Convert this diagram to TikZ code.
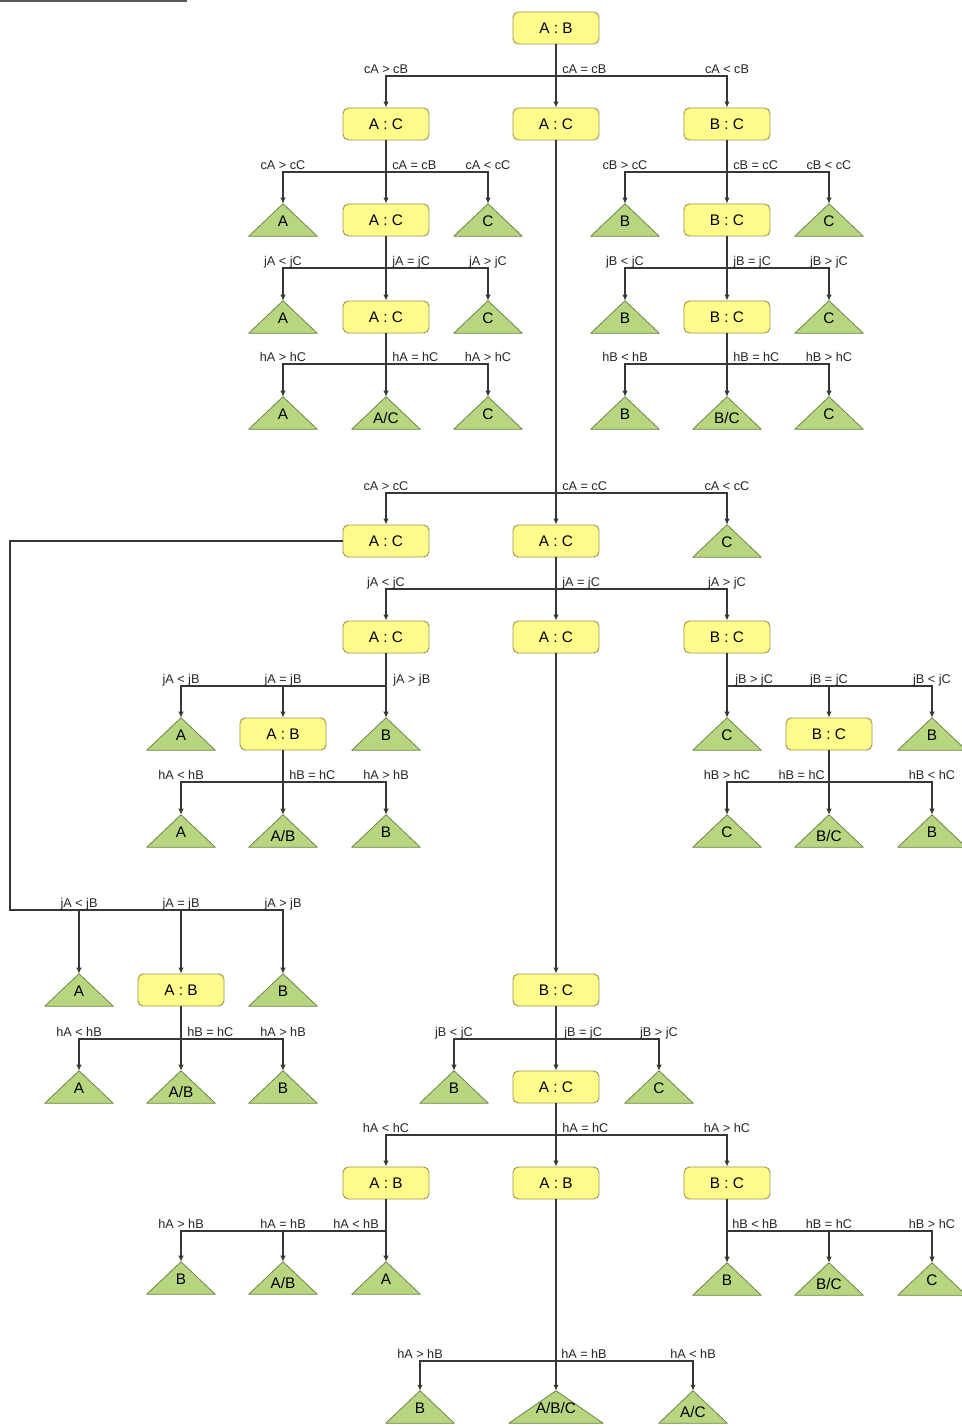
\documentclass[tikz,border=0pt]{standalone}
\usepackage{fontspec}
\setmainfont{Liberation Sans}
\usetikzlibrary{arrows.meta,backgrounds}
\definecolor{boxfill}{RGB}{255,252,140}
\definecolor{boxedge}{RGB}{160,150,80}
\definecolor{leaffill}{RGB}{184,214,128}
\definecolor{leafedge}{RGB}{110,135,70}
\definecolor{linegray}{RGB}{55,55,55}
\newcommand\brx[3]{\draw[conn] (#1.south) -- (#1.south |- 0,#2) -| (#3.north);}
\newcommand\mklab[4]{\node[lab,anchor=#2] (#1) at (#3) {#4};}
\tikzset{
  x=0.75pt, y=-0.75pt,
  conn/.style={draw=linegray, line width=0.8pt, -{Latex[length=4.5pt,width=4pt]}},
  lab/.style={font=\fontsize{9.5}{11}\selectfont, inner sep=0pt, text=black!85},
  box/.style={rectangle, rounded corners=4pt, draw=boxedge, line width=0.7pt, fill=boxfill,
    minimum width=64.5pt, minimum height=24pt, inner sep=0pt, font=\fontsize{11.5}{13}\selectfont},
  leaf/.style={rectangle, minimum width=51pt, minimum height=24pt, inner sep=0pt,
    font=\fontsize{11.5}{13}\selectfont, text height=10.4pt, text depth=0pt},
  leaflow/.style={leaf, text height=15.7pt},
  leafwide/.style={leaf, minimum width=70.5pt},
  leafshape/.style={fill=leaffill, draw=leafedge, line width=0.6pt, line join=round}
}
\begin{document}
\begin{tikzpicture}
\useasboundingbox (0,0) rectangle (961,1426);
\draw[line width=1.5pt, black!65] (0,1) -- (187,1);
% ---------- nodes ----------
\node[box] (r0) at (556,28) {A : B};
\node[box] (b1) at (386,124) {A : C};
\node[box] (b2) at (556,124) {A : C};
\node[box] (b3) at (727,124) {B : C};
\node[leaf] (t1) at (283,220) {A};
\node[box] (b4) at (386,220) {A : C};
\node[leaf] (t2) at (488,220) {C};
\node[leaf] (t3) at (625,220) {B};
\node[box] (b5) at (727,220) {B : C};
\node[leaf] (t4) at (829,220) {C};
\node[leaf] (t5) at (283,317) {A};
\node[box] (b6) at (386,317) {A : C};
\node[leaf] (t6) at (488,317) {C};
\node[leaf] (t7) at (625,317) {B};
\node[box] (b7) at (727,317) {B : C};
\node[leaf] (t8) at (829,317) {C};
\node[leaf] (t9) at (283,413) {A};
\node[leaflow] (t10) at (386,413) {A/C};
\node[leaf] (t11) at (488,413) {C};
\node[leaf] (t12) at (625,413) {B};
\node[leaflow] (t13) at (727,413) {B/C};
\node[leaf] (t14) at (829,413) {C};
\node[box] (b8) at (386,541) {A : C};
\node[box] (b9) at (556,541) {A : C};
\node[leaf] (t15) at (727,541) {C};
\node[box] (b10) at (386,637) {A : C};
\node[box] (b11) at (556,637) {A : C};
\node[box] (b12) at (727,637) {B : C};
\node[leaf] (t16) at (181,734) {A};
\node[box] (b13) at (283,734) {A : B};
\node[leaf] (t17) at (386,734) {B};
\node[leaf] (t18) at (727,734) {C};
\node[box] (b14) at (829,734) {B : C};
\node[leaf] (t19) at (932,734) {B};
\node[leaf] (t20) at (181,831) {A};
\node[leaflow] (t21) at (283,831) {A/B};
\node[leaf] (t22) at (386,831) {B};
\node[leaf] (t23) at (727,831) {C};
\node[leaflow] (t24) at (829,831) {B/C};
\node[leaf] (t25) at (932,831) {B};
\node[leaf] (t26) at (79,990) {A};
\node[box] (b15) at (181,990) {A : B};
\node[leaf] (t27) at (283,990) {B};
\node[box] (b16) at (556,990) {B : C};
\node[leaf] (t28) at (79,1087) {A};
\node[leaflow] (t29) at (181,1087) {A/B};
\node[leaf] (t30) at (283,1087) {B};
\node[leaf] (t31) at (454,1087) {B};
\node[box] (b17) at (556,1087) {A : C};
\node[leaf] (t32) at (659,1087) {C};
\node[box] (b18) at (386,1183) {A : B};
\node[box] (b19) at (556,1183) {A : B};
\node[box] (b20) at (727,1183) {B : C};
\node[leaf] (t33) at (181,1278) {B};
\node[leaflow] (t34) at (283,1278) {A/B};
\node[leaf] (t35) at (386,1278) {A};
\node[leaf] (t36) at (727,1279) {B};
\node[leaflow] (t37) at (829,1279) {B/C};
\node[leaf] (t38) at (932,1279) {C};
\node[leaf] (t39) at (420,1407) {B};
\node[leafwide] (t40) at (556,1407) {A/B/C};
\node[leaflow] (t41) at (693,1407) {A/C};
\coordinate (k) at (10,910);
% ---------- connectors ----------
\brx{r0}{76}{b1} \brx{r0}{76}{b2} \brx{r0}{76}{b3}
\brx{b1}{172}{t1} \brx{b1}{172}{b4} \brx{b1}{172}{t2}
\brx{b4}{268}{t5} \brx{b4}{268}{b6} \brx{b4}{268}{t6}
\brx{b6}{364}{t9} \brx{b6}{364}{t10} \brx{b6}{364}{t11}
\brx{b3}{172}{t3} \brx{b3}{172}{b5} \brx{b3}{172}{t4}
\brx{b5}{268}{t7} \brx{b5}{268}{b7} \brx{b5}{268}{t8}
\brx{b7}{364}{t12} \brx{b7}{364}{t13} \brx{b7}{364}{t14}
\brx{b2}{493}{b8} \brx{b2}{493}{b9} \brx{b2}{493}{t15}
\brx{b9}{589}{b10} \brx{b9}{589}{b11} \brx{b9}{589}{b12}
\brx{b10}{686}{t16} \brx{b10}{686}{b13} \brx{b10}{686}{t17}
\brx{b13}{782}{t20} \brx{b13}{782}{t21} \brx{b13}{782}{t22}
\brx{b12}{686}{t18} \brx{b12}{686}{b14} \brx{b12}{686}{t19}
\brx{b14}{782}{t23} \brx{b14}{782}{t24} \brx{b14}{782}{t25}
\draw[conn] (b8.west) -| (k) -| (t26.north);
\draw[conn] (k) -| (b15.north);
\draw[conn] (k) -| (t27.north);
\brx{b15}{1039}{t28} \brx{b15}{1039}{t29} \brx{b15}{1039}{t30}
\draw[conn] (b11.south) -- (b16.north);
\brx{b16}{1039}{t31} \brx{b16}{1039}{b17} \brx{b16}{1039}{t32}
\brx{b17}{1135}{b18} \brx{b17}{1135}{b19} \brx{b17}{1135}{b20}
\brx{b18}{1231}{t33} \brx{b18}{1231}{t34} \brx{b18}{1231}{t35}
\brx{b20}{1231}{t36} \brx{b20}{1231}{t37} \brx{b20}{1231}{t38}
\brx{b19}{1361}{t39} \brx{b19}{1361}{t40} \brx{b19}{1361}{t41}
% ---------- labels ----------
\mklab{l1}{base}{386,73.5}{cA > cB}
\mklab{l2}{base west}{562,73.5}{cA = cB}
\mklab{l3}{base}{727,73.5}{cA < cB}
\mklab{l4}{base}{283,169.5}{cA > cC}
\mklab{l5}{base west}{392,169.5}{cA = cB}
\mklab{l6}{base}{488,169.5}{cA < cC}
\mklab{l7}{base}{283,265.5}{jA < jC}
\mklab{l8}{base west}{392,265.5}{jA = jC}
\mklab{l9}{base}{488,265.5}{jA > jC}
\mklab{l10}{base}{283,361.5}{hA > hC}
\mklab{l11}{base west}{392,361.5}{hA = hC}
\mklab{l12}{base}{488,361.5}{hA > hC}
\mklab{l13}{base}{625,169.5}{cB > cC}
\mklab{l14}{base west}{733,169.5}{cB = cC}
\mklab{l15}{base}{829,169.5}{cB < cC}
\mklab{l16}{base}{625,265.5}{jB < jC}
\mklab{l17}{base west}{733,265.5}{jB = jC}
\mklab{l18}{base}{829,265.5}{jB > jC}
\mklab{l19}{base}{625,361.5}{hB < hB}
\mklab{l20}{base west}{733,361.5}{hB = hC}
\mklab{l21}{base}{829,361.5}{hB > hC}
\mklab{l22}{base}{386,490.5}{cA > cC}
\mklab{l23}{base west}{562,490.5}{cA = cC}
\mklab{l24}{base}{727,490.5}{cA < cC}
\mklab{l25}{base}{386,586.5}{jA < jC}
\mklab{l26}{base west}{562,586.5}{jA = jC}
\mklab{l27}{base}{727,586.5}{jA > jC}
\mklab{l28}{base}{181,683.5}{jA < jB}
\mklab{l29}{base}{283,683.5}{jA = jB}
\mklab{l30}{base west}{393,683.5}{jA > jB}
\mklab{l31}{base}{181,779.5}{hA < hB}
\mklab{l32}{base west}{289,779.5}{hB = hC}
\mklab{l33}{base}{386,779.5}{hA > hB}
\mklab{l34}{base west}{735,683.5}{jB > jC}
\mklab{l35}{base}{829,683.5}{jB = jC}
\mklab{l36}{base}{932,683.5}{jB < jC}
\mklab{l37}{base}{727,779.5}{hB > hC}
\mklab{l38}{base east}{825,779.5}{hB = hC}
\mklab{l39}{base}{932,779.5}{hB < hC}
\mklab{l40}{base}{79,907.5}{jA < jB}
\mklab{l41}{base}{181,907.5}{jA = jB}
\mklab{l42}{base}{283,907.5}{jA > jB}
\mklab{l43}{base}{79,1036.5}{hA < hB}
\mklab{l44}{base west}{187,1036.5}{hB = hC}
\mklab{l45}{base}{283,1036.5}{hA > hB}
\mklab{l46}{base}{454,1036.5}{jB < jC}
\mklab{l47}{base west}{564,1036.5}{jB = jC}
\mklab{l48}{base}{659,1036.5}{jB > jC}
\mklab{l49}{base}{386,1132.5}{hA < hC}
\mklab{l50}{base west}{562,1132.5}{hA = hC}
\mklab{l51}{base}{727,1132.5}{hA > hC}
\mklab{l52}{base}{181,1228.5}{hA > hB}
\mklab{l53}{base}{283,1228.5}{hA = hB}
\mklab{l54}{base east}{379,1228.5}{hA < hB}
\mklab{l55}{base west}{732,1228.5}{hB < hB}
\mklab{l56}{base}{829,1228.5}{hB = hC}
\mklab{l57}{base}{932,1228.5}{hB > hC}
\mklab{l58}{base}{420,1358.5}{hA > hB}
\mklab{l59}{base west}{561,1358.5}{hA = hB}
\mklab{l60}{base}{693,1358.5}{hA < hB}
% ---------- triangles and background ----------
\begin{scope}[on background layer]
\fill[white] (0,0) rectangle (961,1426);
\foreach \n in {1,...,41}
  \path[leafshape] (t\n.south west) -- (t\n.north) -- (t\n.south east) -- cycle;
\end{scope}
\end{tikzpicture}
\end{document}
